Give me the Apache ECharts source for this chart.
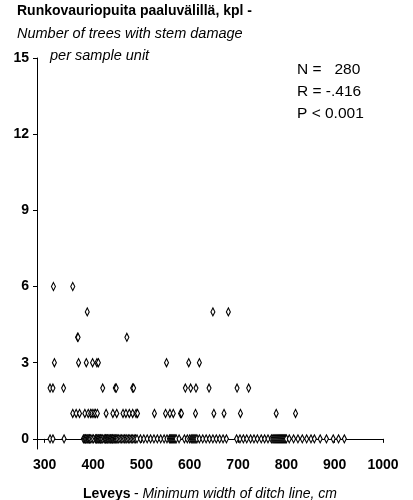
<!DOCTYPE html>
<html>
<head>
<meta charset="utf-8">
<script src="https://cdn.jsdelivr.net/npm/echarts@6/dist/echarts.min.js"></script>
<style>
  html, body { margin: 0; padding: 0; background: #fff; }
  #chart { width: 413px; height: 500px; }
</style>
</head>
<body>
<div id="chart"></div>
<script>
// minimum ditch width (cm) of each sample unit, grouped by number of damaged trees
const widths0 = [
  311, 317, 340,
  380, 382, 384, 385, 387, 389, 390, 392, 393, 395, 398, 401,
  405, 407, 408, 410, 411, 413, 415, 416, 418, 420,
  423, 425, 426, 428, 430, 431, 433, 435, 436, 438, 440, 441, 443, 445, 446, 448, 450,
  453, 456, 459, 462, 465, 468, 470, 473, 476, 479, 482, 485, 488, 491,
  498, 505, 512, 519, 526, 533,
  540, 547, 553, 558, 560, 562, 564, 566, 568, 570, 572, 578,
  589, 595, 600, 603, 605, 607, 609, 611, 613, 615, 620, 627, 634, 641, 648, 655, 662, 669, 676,
  697, 704, 711, 718, 726, 733, 740, 748, 755, 762, 769,
  772, 774, 776, 778, 780, 782, 784, 786, 788, 790, 792, 794, 796, 798, 800,
  806, 815, 824, 833, 842, 851, 858,
  870, 883, 897, 908, 920
]
const widths1 = [358, 365, 372, 383, 390, 395, 398, 402, 405, 409, 427, 441, 449, 462, 468, 475,
  482, 489, 492, 527, 550, 559, 566, 581, 583, 612, 650, 671, 705, 779, 819]
const widths2 = [311, 317, 339, 420, 446, 448, 482, 484, 591, 602, 613, 640, 698, 722]
const widths3 = [320, 370, 386, 399, 408, 411, 552, 598, 620]
const widths4 = [368, 369, 470]
const widths5 = [388, 648, 680]
const widths6 = [318, 358]

const xTicks = [300, 400, 500, 600, 700, 800, 900, 1000]
const yTicks = [0, 3, 6, 9, 12, 15]

const groups = [widths0, widths1, widths2, widths3, widths4, widths5, widths6]
const points = []
groups.forEach((list, count) => {
  list.forEach(w => points.push([w, count]))
})

const font = '"Liberation Sans", Arial, sans-serif'

const myChart = echarts.init(document.getElementById('chart'))
myChart.setOption({
  animation: false,
  textStyle: { fontFamily: font },
  grid: {
    left: 37,
    right: 30,
    top: 58,
    bottom: 51,
    outerBoundsMode: 'none'
  },
  xAxis: {
    type: 'value',
    min: 284,
    max: 1000,
    splitLine: { show: false },
    axisLine: { lineStyle: { color: '#000', width: 1 } },
    axisTick: { length: 4, customValues: xTicks, lineStyle: { color: '#000' } },
    axisLabel: {
      customValues: xTicks,
      formatter: v => String(v),
      margin: 9,
      color: '#000',
      fontSize: 14,
      fontWeight: 'bold',
      fontFamily: font
    },
    name: '{b|Leveys} {n|- }{i|Minimum width of ditch line, cm}',
    nameLocation: 'middle',
    nameGap: 38,
    nameTextStyle: {
      rich: {
        b: { fontSize: 14, fontWeight: 'bold', color: '#000', fontFamily: font },
        n: { fontSize: 14, color: '#000', fontFamily: font },
        i: { fontSize: 14, fontStyle: 'italic', color: '#000', fontFamily: font }
      }
    }
  },
  yAxis: {
    type: 'value',
    min: -0.4,
    max: 15,
    splitLine: { show: false },
    axisLine: { show: true, lineStyle: { color: '#000', width: 1 } },
    axisTick: { show: true, length: 4, customValues: yTicks, lineStyle: { color: '#000' } },
    axisLabel: {
      customValues: yTicks,
      margin: 8,
      color: '#000',
      fontSize: 14,
      fontWeight: 'bold',
      fontFamily: font
    }
  },
  graphic: [
    {
      type: 'text', left: 17, top: 4,
      style: { text: 'Runkovauriopuita paaluvälillä, kpl -', font: 'bold 14px ' + font, fill: '#000' }
    },
    {
      type: 'text', left: 17, top: 26,
      style: { text: 'Number of trees with stem damage', font: 'italic 14.5px ' + font, fill: '#000' }
    },
    {
      type: 'text', left: 50, top: 48,
      style: { text: 'per sample unit', font: 'italic 14.5px ' + font, fill: '#000' }
    },
    {
      type: 'text', left: 297, top: 59,
      style: { text: 'N =   280\nR = -.416\nP < 0.001', font: '15.5px ' + font, lineHeight: 22, fill: '#000' }
    }
  ],
  series: [
    {
      type: 'scatter',
      symbol: 'diamond',
      symbolSize: [4, 8],
      itemStyle: { color: '#fff', borderColor: '#000', borderWidth: 1.2, opacity: 1 },
      data: points
    }
  ]
})
</script>
</body>
</html>
